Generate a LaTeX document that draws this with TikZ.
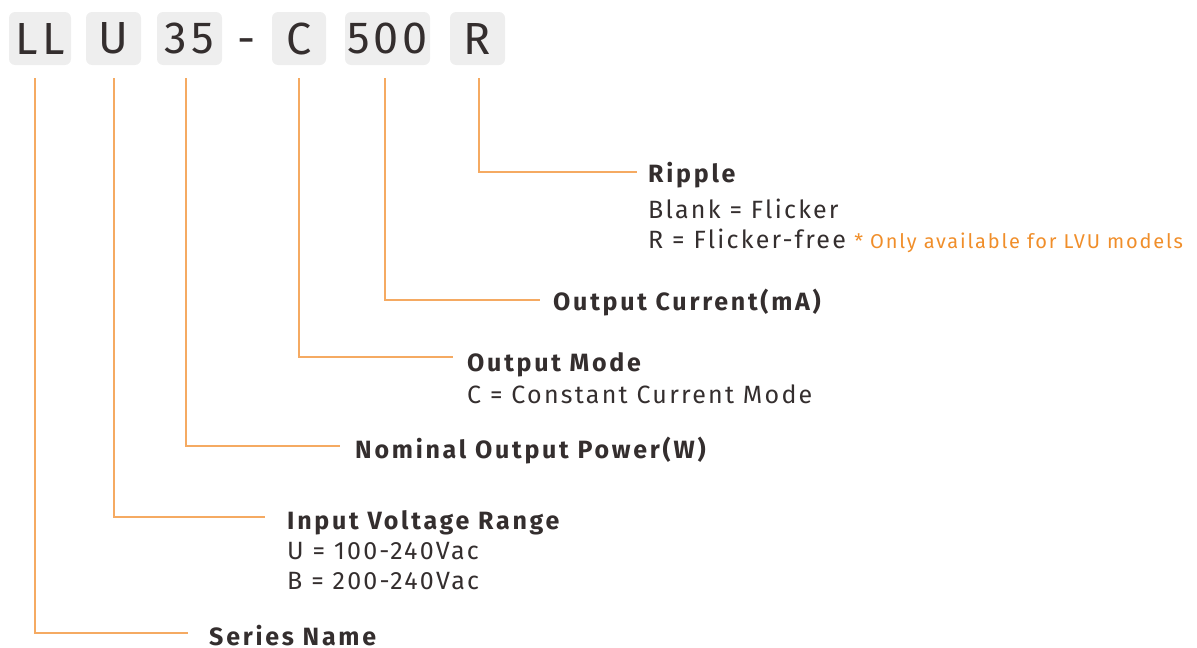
\documentclass[tikz,border=0pt]{standalone}
\usepackage{fontspec}
\setmainfont[LetterSpace=9,BoldFeatures={LetterSpace=11}]{Fira Sans}
\usetikzlibrary{positioning}
\definecolor{codegray}{RGB}{238,238,238}
\definecolor{inkgray}{RGB}{52,46,46}
\definecolor{leadorange}{RGB}{245,170,98}
\definecolor{noteorange}{RGB}{240,142,42}
\tikzset{
  codebox/.style={rectangle,rounded corners=6pt,fill=codegray,minimum height=53pt,inner sep=0pt,text=inkgray,font=\fontsize{45}{50}\selectfont},
  title/.style={anchor=base west,inner sep=0pt,text=inkgray,font=\fontsize{25}{30}\selectfont\bfseries},
  detail/.style={anchor=base west,inner sep=0pt,text=inkgray,font=\fontsize{25}{30}\selectfont},
  note/.style={anchor=base west,inner sep=0pt,text=noteorange,font=\fontsize{20}{24}\selectfont},
  lead/.style={draw=leadorange,line width=1.2pt}
}
\begin{document}
\begin{tikzpicture}[x=1pt,y=-1pt]
  \useasboundingbox (0,0) rectangle (1197,648);
  % model code
  \node[codebox,minimum width=62pt] (ll) at (40,38.5) {LL};
  \node[codebox,minimum width=55pt] (u) at (113.5,38.5) {U};
  \node[codebox,minimum width=65pt] (p35) at (189.5,38.5) {35};
  \node[anchor=base,inner sep=0pt,text=inkgray,font=\fontsize{45}{50}\selectfont] (dash) at (247,54) {-};
  \node[codebox,minimum width=54pt] (c) at (299,38.5) {C};
  \node[codebox,minimum width=85pt] (i500) at (387.5,38.5) {500};
  \node[codebox,minimum width=55pt] (r) at (477.5,38.5) {R};
  % descriptions
  \node[title] (ripple) at (648,182) {Ripple};
  \node[detail] (blank) at (648,218) {Blank = Flicker};
  \node[detail] (flickfree) at (648,248) {R = Flicker-free};
  \node[note] (lvu) at ([xshift=8pt]flickfree.base east) {* Only available for LVU models};
  \node[title] (current) at (553,310) {Output Current(mA)};
  \node[title] (mode) at (467,371) {Output Mode};
  \node[detail] (ccmode) at (467,403) {C = Constant Current Mode};
  \node[title] (power) at (355,458) {Nominal Output Power(W)};
  \node[title] (voltage) at (287,529) {Input Voltage Range};
  \node[detail] (urange) at (287,559) {U = 100-240Vac};
  \node[detail] (brange) at (287,589) {B = 200-240Vac};
  \node[title] (series) at (209,645) {Series Name};
  % leaders
  \draw[lead] ([xshift=1.5pt,yshift=-13pt]r.south) |- ([xshift=-11pt,yshift=10pt]ripple.base west);
  \draw[lead] ([xshift=-2.5pt,yshift=-13pt]i500.south) |- ([xshift=-13pt,yshift=10pt]current.base west);
  \draw[lead] ([yshift=-13pt]c.south) |- ([xshift=-14pt,yshift=14pt]mode.base west);
  \draw[lead] ([xshift=-3.5pt,yshift=-13pt]p35.south) |- ([xshift=-15pt,yshift=12pt]power.base west);
  \draw[lead] ([xshift=0.5pt,yshift=-13pt]u.south) |- ([xshift=-22pt,yshift=12pt]voltage.base west);
  \draw[lead] ([xshift=-5pt,yshift=-13pt]ll.south) |- ([xshift=-21pt,yshift=12pt]series.base west);
\end{tikzpicture}
\end{document}
